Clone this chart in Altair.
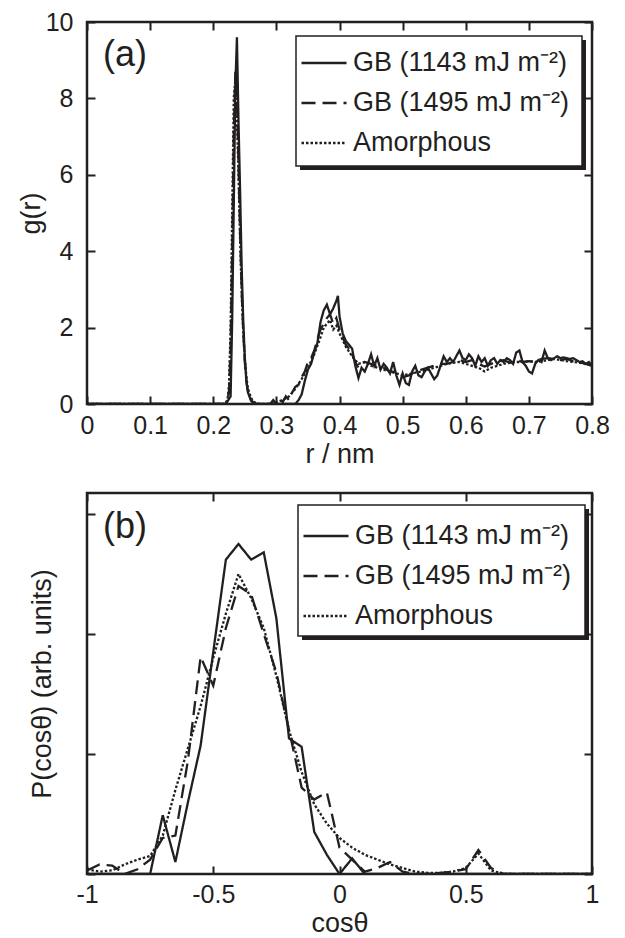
import altair as alt
import pandas as pd

FONT = "Liberation Sans"
INK = "#231f20"
SERIES = ["GB (1143 mJ m⁻²)", "GB (1495 mJ m⁻²)", "Amorphous"]
DASHES = [[1, 0], [14, 7], [2.5, 2]]

# ---------------- panel (a): g(r) ----------------
r_gb1143 = [0.0, 0.220, 0.2275, 0.230, 0.2325, 0.235, 0.2375, 0.240, 0.2425, 0.245,
            0.2475, 0.250, 0.2525, 0.255, 0.260, 0.265,
            0.330, 0.335, 0.340, 0.345, 0.350, 0.355, 0.360, 0.365, 0.370, 0.375,
            0.380, 0.385, 0.390, 0.395, 0.3975, 0.400, 0.405, 0.410, 0.415, 0.420,
            0.425, 0.430, 0.435, 0.440, 0.445, 0.450, 0.455, 0.460, 0.465, 0.470,
            0.475, 0.480, 0.485, 0.490, 0.495, 0.500, 0.505, 0.510, 0.515, 0.520,
            0.525, 0.530, 0.535, 0.540, 0.545, 0.550, 0.555, 0.560, 0.565, 0.570,
            0.575, 0.580, 0.585, 0.590, 0.595, 0.600, 0.605, 0.610, 0.615, 0.620,
            0.625, 0.630, 0.635, 0.640, 0.645, 0.650, 0.655, 0.660, 0.665, 0.670,
            0.675, 0.680, 0.685, 0.690, 0.695, 0.700, 0.705, 0.710, 0.715, 0.720,
            0.725, 0.730, 0.735, 0.740, 0.745, 0.750, 0.755, 0.760, 0.765, 0.770,
            0.775, 0.780, 0.785, 0.790, 0.795, 0.800]
g_gb1143 = [0, 0, 0.2, 2.2, 5.2, 8.3, 9.6, 7.4, 5.6, 3.6,
            2.2, 1.2, 0.6, 0.3, 0.08, 0.0,
            0.0, 0.1, 0.25, 0.6, 0.9, 1.05, 1.35, 1.6, 2.15, 2.45,
            2.6, 2.35, 2.5, 2.7, 2.83, 2.3, 1.85, 1.65, 1.55, 1.45,
            1.0, 0.68, 0.95, 0.85, 1.05, 1.3, 1.0, 1.2, 0.9, 1.05,
            0.95, 0.8, 1.1, 0.75, 0.5, 0.8, 0.55, 0.5, 0.85, 1.0,
            0.75, 0.7, 0.85, 0.95, 0.8, 0.65, 0.75, 1.0, 1.25, 1.1,
            1.2, 1.1, 1.25, 1.4, 1.2, 1.15, 1.3, 1.2, 1.0, 1.25,
            1.1, 1.2, 1.0, 1.15, 1.2, 1.05, 1.15, 1.1, 1.2, 1.15,
            1.05, 1.35, 1.4, 1.1, 1.0, 0.85, 0.8, 1.05, 1.15, 1.1,
            1.4, 1.2, 1.15, 1.2, 1.25, 1.2, 1.22, 1.2, 1.18, 1.2,
            1.15, 1.1, 1.12, 1.05, 1.1, 1.0]

r_gb1495 = [0.0, 0.220, 0.225, 0.2275, 0.230, 0.2325, 0.235, 0.2375, 0.240, 0.2425,
            0.245, 0.2475, 0.250, 0.2525, 0.255, 0.260, 0.265, 0.270, 0.290, 0.295,
            0.300, 0.305, 0.310, 0.315, 0.320, 0.325, 0.330, 0.335, 0.340, 0.345,
            0.350, 0.355, 0.360, 0.365, 0.370, 0.375, 0.380, 0.385, 0.390, 0.395,
            0.400, 0.405, 0.410, 0.415, 0.420, 0.425, 0.430, 0.440, 0.450, 0.460,
            0.470, 0.480, 0.490, 0.500, 0.510, 0.520, 0.530, 0.540, 0.550, 0.560,
            0.570, 0.580, 0.590, 0.600, 0.610, 0.620, 0.630, 0.640, 0.650, 0.660,
            0.670, 0.680, 0.690, 0.700, 0.710, 0.720, 0.730, 0.740, 0.750, 0.760,
            0.770, 0.780, 0.790, 0.800]
g_gb1495 = [0, 0, 0.3, 1.5, 4.0, 7.0, 8.7, 8.0, 6.3, 4.5,
            3.0, 1.9, 1.1, 0.6, 0.3, 0.1, 0.02, 0, 0, 0.1,
            0.0, 0.15, 0.05, 0.2, 0.1, 0.3, 0.45, 0.5, 0.7, 0.85,
            1.1, 1.2, 1.4, 1.7, 1.95, 2.1, 2.25, 2.35, 2.1, 2.25,
            1.95, 1.75, 1.55, 1.45, 1.3, 1.1, 0.95, 1.1, 1.05, 1.0,
            0.95, 0.85, 0.85, 0.7, 0.75, 0.85, 0.9, 0.95, 1.0, 1.05,
            1.05, 1.1, 1.15, 1.1, 1.15, 1.05, 0.98, 1.05, 1.12, 1.15,
            1.08, 1.15, 1.1, 1.12, 1.1, 1.18, 1.2, 1.18, 1.15, 1.18,
            1.12, 1.1, 1.05, 1.0]

r_amor = [0.0, 0.218, 0.2225, 0.225, 0.2275, 0.230, 0.2325, 0.235, 0.2375, 0.240,
          0.2425, 0.245, 0.2475, 0.250, 0.2525, 0.255, 0.260, 0.265, 0.270, 0.290,
          0.300, 0.310, 0.320, 0.330, 0.340, 0.350, 0.360, 0.370, 0.375, 0.380,
          0.385, 0.390, 0.395, 0.400, 0.410, 0.420, 0.430, 0.440, 0.450, 0.460,
          0.470, 0.480, 0.490, 0.500, 0.510, 0.520, 0.530, 0.540, 0.550, 0.560,
          0.570, 0.580, 0.590, 0.600, 0.610, 0.620, 0.630, 0.640, 0.650, 0.660,
          0.670, 0.680, 0.690, 0.700, 0.710, 0.720, 0.730, 0.740, 0.750, 0.760,
          0.770, 0.780, 0.790, 0.800]
g_amor = [0, 0, 0.1, 0.5, 2.0, 5.0, 8.0, 8.5, 7.5, 6.0,
          4.3, 2.9, 1.9, 1.2, 0.7, 0.4, 0.15, 0.05, 0, 0,
          0.05, 0.1, 0.2, 0.4, 0.65, 0.95, 1.3, 1.75, 2.0, 2.1,
          2.2, 1.95, 2.05, 1.85, 1.5, 1.25, 1.05, 1.1, 1.0, 0.95,
          0.9, 0.85, 0.8, 0.75, 0.78, 0.82, 0.85, 0.9, 0.95, 1.0,
          1.05, 1.08, 1.1, 1.05, 1.0, 0.95, 0.85, 0.95, 1.0, 1.05,
          1.08, 1.1, 1.1, 1.12, 1.1, 1.12, 1.15, 1.18, 1.15, 1.12,
          1.1, 1.08, 1.05, 1.02]

# ---------------- panel (b): P(cos theta) ----------------
cos_b = [-1.00, -0.95, -0.90, -0.85, -0.80, -0.75, -0.70, -0.65, -0.60, -0.55,
         -0.50, -0.45, -0.40, -0.35, -0.30, -0.25, -0.20, -0.15, -0.10, -0.05,
         0.00, 0.05, 0.10, 0.15, 0.20, 0.25, 0.30, 0.35, 0.40, 0.45,
         0.50, 0.55, 0.60, 0.65, 0.70, 0.75, 0.80, 0.85, 0.90, 0.95, 1.00]
p_gb1143 = [0, 0, 0, 0, 0, 0, 0.49, 0.10, 0.60, 1.07,
            1.85, 2.62, 2.75, 2.62, 2.68, 2.13, 1.13, 1.06, 0.35, 0.16,
            0.0, 0.13, 0.0, 0, 0, 0, 0, 0, 0, 0,
            0, 0, 0, 0, 0, 0, 0, 0, 0, 0, 0]
p_gb1495 = [0.03, 0.08, 0.07, 0.0, 0.04, 0.12, 0.30, 0.32, 0.95, 1.81,
            1.57, 2.05, 2.40, 2.33, 2.0, 1.68, 1.2, 0.72, 0.62, 0.68,
            0.22, 0.12, 0.02, 0.05, 0.1, 0.02, 0.0, 0.0, 0.01, 0.02,
            0.04, 0.2, 0.05, 0, 0, 0, 0, 0, 0, 0, 0]
p_amor = [0.04, 0.02, 0.03, 0.08, 0.12, 0.15, 0.32, 0.70, 1.05, 1.40,
          1.80, 2.17, 2.50, 2.30, 2.05, 1.65, 1.20, 0.85, 0.58, 0.42,
          0.30, 0.22, 0.16, 0.12, 0.08, 0.05, 0.02, 0.01, 0.01, 0.02,
          0.05, 0.17, 0.03, 0.0, 0, 0, 0, 0, 0, 0, 0]

x_ticks_a = [0, 0.1, 0.2, 0.3, 0.4, 0.5, 0.6, 0.7, 0.8]
y_ticks_a = [0, 2, 4, 6, 8, 10]
x_ticks_b = [-1, -0.5, 0, 0.5, 1]
y_ticks_b = [0, 1, 2, 3]


def frame(xs, ys, name, xname, yname):
    return pd.DataFrame({xname: xs, yname: ys, "series": name})


df_a = pd.concat([
    frame(r_gb1143, g_gb1143, SERIES[0], "r", "g"),
    frame(r_gb1495, g_gb1495, SERIES[1], "r", "g"),
    frame(r_amor, g_amor, SERIES[2], "r", "g"),
])
df_b = pd.concat([
    frame(cos_b, p_gb1143, SERIES[0], "c", "p"),
    frame(cos_b, p_gb1495, SERIES[1], "c", "p"),
    frame(cos_b, p_amor, SERIES[2], "c", "p"),
])

W = 505


def panel(df, xname, yname, xdom, ydom, xvals, yvals, show_ylabels, xtitle, ytitle,
          tag, H, box, ytitlepad, xlabelpad, xtitlepad, legy, tagy):
    lines = alt.Chart(df).mark_line(strokeWidth=2.3, color=INK, clip=True).encode(
        x=alt.X(f"{xname}:Q",
                scale=alt.Scale(domain=xdom, nice=False, zero=False),
                axis=alt.Axis(values=xvals, labelExpr="'' + datum.value", title=xtitle,
                              gridDash=[8, H - 16, 8, 2000], labelPadding=xlabelpad,
                              titlePadding=xtitlepad)),
        y=alt.Y(f"{yname}:Q",
                scale=alt.Scale(domain=ydom, nice=False, zero=False),
                axis=alt.Axis(values=yvals, labels=show_ylabels, labelExpr="'' + datum.value",
                              title=ytitle, gridDash=[8, W - 16, 8, 2000],
                              labelPadding=14, titlePadding=ytitlepad)),
        strokeDash=alt.StrokeDash(
            "series:N",
            scale=alt.Scale(domain=SERIES, range=DASHES),
            legend=alt.Legend(orient="none", legendX=box[0] + 4, legendY=legy, title=None,
                              labelFont=FONT, labelFontSize=27, labelColor=INK,
                              labelOffset=5, labelLimit=400,
                              symbolType="stroke", symbolSize=2025, symbolStrokeWidth=2.3,
                              symbolStrokeColor=INK, rowPadding=3, padding=0),
        ),
    )
    one = pd.DataFrame({"t": [tag]})
    shadow = alt.Chart(one).mark_rect(color=INK).encode(
        x=alt.value(box[0] + 4), x2=alt.value(box[1] + 4),
        y=alt.value(box[2] + 4), y2=alt.value(box[3] + 4))
    frame_box = alt.Chart(one).mark_rect(fill="white", stroke=INK, strokeWidth=1.5).encode(
        x=alt.value(box[0]), x2=alt.value(box[1]),
        y=alt.value(box[2]), y2=alt.value(box[3]))
    label = alt.Chart(one).mark_text(font=FONT, fontSize=36, align="left", baseline="middle",
                                     color=INK).encode(
        x=alt.value(16), y=alt.value(tagy), text="t:N")
    return alt.layer(lines, shadow, frame_box, label).properties(width=W, height=H)


pa = panel(df_a, "r", "g", [0, 0.8], [0, 10], x_ticks_a, y_ticks_a, True,
           "r / nm", "g(r)", "(a)", 382, (209, 495, 14, 144), 0, 9, 3, 17, 33)
pb = panel(df_b, "c", "p", [-1, 1], [0, 3.175], x_ticks_b, y_ticks_b, False,
           "cosθ", "P(cosθ) (arb. units)", "(b)", 381, (211, 498, 12, 143), 31, 8, 3, 19, 34)

chart = alt.vconcat(pa, pb, spacing=22).resolve_scale(
    strokeDash="independent").resolve_legend(strokeDash="independent").properties(
    padding={"left": 7, "top": 0, "right": 5, "bottom": 0}
).configure_view(stroke=INK, strokeWidth=2.5).configure_axis(
    labelFont=FONT, titleFont=FONT, labelFontSize=25, titleFontSize=27,
    labelColor=INK, titleColor=INK, titleFontWeight="normal",
    domain=False, ticks=False, tickSize=0, grid=True, gridColor=INK, gridWidth=2,
    gridOpacity=1, labelOverlap=False, labelFlush=False
).configure_legend(labelFont=FONT)

chart.save("out.html", embed_options={"renderer": "svg", "actions": False})
